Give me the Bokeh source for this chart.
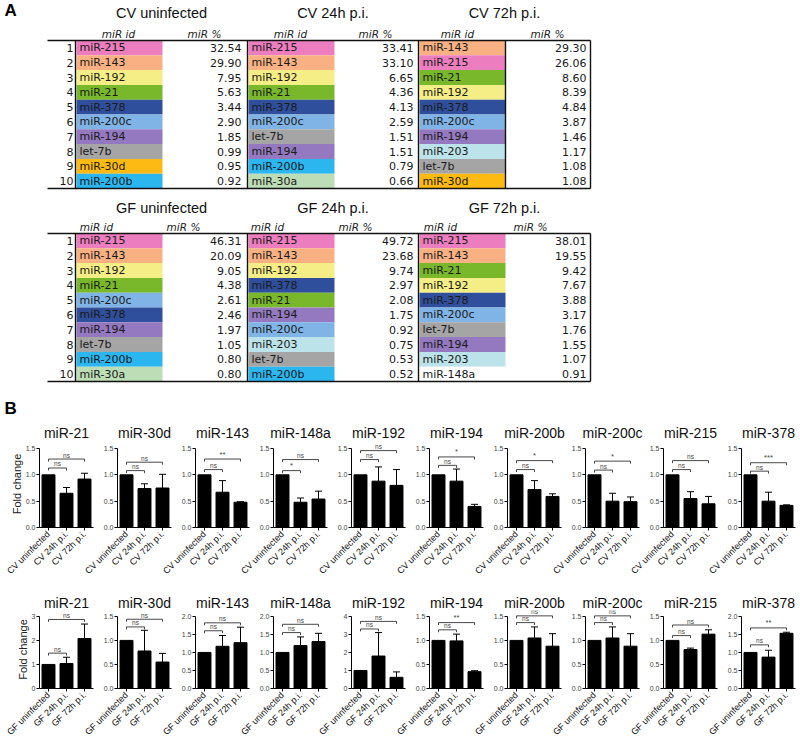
from math import pi
import numpy as np
from bokeh.plotting import figure
from bokeh.models import (ColumnDataSource, Range1d, FactorRange, FixedTicker,
                          NumeralTickFormatter, Whisker, TeeHead)
from bokeh.layouts import column, row
from bokeh.embed import file_html
from bokeh.resources import INLINE
from bokeh.core.properties import value

# ---------------- Panel A data ----------------
ranks = list(range(1, 11))
cv_titles = ["CV uninfected", "CV 24h p.i.", "CV 72h p.i."]
gf_titles = ["GF uninfected", "GF 24h p.i.", "GF 72h p.i."]

cv_uninf_ids = ["miR-215", "miR-143", "miR-192", "miR-21", "miR-378", "miR-200c", "miR-194", "let-7b", "miR-30d", "miR-200b"]
cv_uninf_pct = [32.54, 29.90, 7.95, 5.63, 3.44, 2.90, 1.85, 0.99, 0.95, 0.92]
cv_24h_ids = ["miR-215", "miR-143", "miR-192", "miR-21", "miR-378", "miR-200c", "let-7b", "miR-194", "miR-200b", "miR-30a"]
cv_24h_pct = [33.41, 33.10, 6.65, 4.36, 4.13, 2.59, 1.51, 1.51, 0.79, 0.66]
cv_72h_ids = ["miR-143", "miR-215", "miR-21", "miR-192", "miR-378", "miR-200c", "miR-194", "miR-203", "let-7b", "miR-30d"]
cv_72h_pct = [29.30, 26.06, 8.60, 8.39, 4.84, 3.87, 1.46, 1.17, 1.08, 1.08]

gf_uninf_ids = ["miR-215", "miR-143", "miR-192", "miR-21", "miR-200c", "miR-378", "miR-194", "let-7b", "miR-200b", "miR-30a"]
gf_uninf_pct = [46.31, 20.09, 9.05, 4.38, 2.61, 2.46, 1.97, 1.05, 0.80, 0.80]
gf_24h_ids = ["miR-215", "miR-143", "miR-192", "miR-378", "miR-21", "miR-194", "miR-200c", "miR-203", "let-7b", "miR-200b"]
gf_24h_pct = [49.72, 23.68, 9.74, 2.97, 2.08, 1.75, 0.92, 0.75, 0.53, 0.52]
gf_72h_ids = ["miR-215", "miR-143", "miR-21", "miR-192", "miR-378", "miR-200c", "let-7b", "miR-194", "miR-203", "miR-148a"]
gf_72h_pct = [38.01, 19.55, 9.42, 7.67, 3.88, 3.17, 1.76, 1.55, 1.07, 0.91]

mir_colors = {
    "miR-215": "#EC7DBE", "miR-143": "#F9B183", "miR-192": "#F5EE87",
    "miR-21": "#78B82A", "miR-378": "#2F4F9C", "miR-200c": "#80B3E6",
    "miR-194": "#9479C0", "let-7b": "#A5A5A5", "miR-30d": "#FDBA12",
    "miR-200b": "#2CB6F0", "miR-30a": "#BCDDB5", "miR-203": "#BDE3EA",
    "miR-148a": "#FFFFFF",
}

# ---------------- Panel B data ----------------
mirs = ["miR-21", "miR-30d", "miR-143", "miR-148a", "miR-192", "miR-194",
        "miR-200b", "miR-200c", "miR-215", "miR-378"]
cv_groups = ["CV uninfected", "CV 24h p.i.", "CV 72h p.i."]
gf_groups = ["GF uninfected", "GF 24h p.i.", "GF 72h p.i."]

cv_mean = [[1.00, 0.65, 0.92], [1.00, 0.74, 0.75], [1.00, 0.67, 0.48], [1.00, 0.48, 0.54],
           [1.00, 0.88, 0.80], [1.00, 0.88, 0.40], [1.00, 0.72, 0.59], [1.00, 0.50, 0.49],
           [1.00, 0.55, 0.45], [1.00, 0.50, 0.42]]
cv_err_top = [[0.76, 1.03], [0.83, 1.01], [0.89, 0.49], [0.56, 0.69], [1.15, 1.10],
              [1.11, 0.44], [0.89, 0.64], [0.65, 0.58], [0.68, 0.59], [0.67, 0.43]]
cv_ymax = [1.5, 1.5, 1.5, 1.5, 1.5, 1.5, 1.5, 1.5, 1.5, 1.5]
cv_step = [0.5, 0.5, 0.5, 0.5, 0.5, 0.5, 0.5, 0.5, 0.5, 0.5]
cv_sig = [("ns", "ns"), ("ns", "ns"), ("ns", "**"), ("*", "ns"), ("ns", "ns"),
          ("ns", "*"), ("ns", "*"), ("ns", "*"), ("ns", "ns"), ("ns", "***")]
cv_brk = [(1.13, 1.30), (1.08, 1.24), (1.10, 1.30), (1.08, 1.29), (1.29, 1.46),
          (1.18, 1.34), (1.10, 1.27), (1.09, 1.26), (1.10, 1.27), (1.07, 1.23)]

gf_mean = [[1.00, 1.04, 2.08], [1.00, 0.78, 0.55], [1.00, 1.17, 1.27], [1.00, 1.19, 1.30],
           [1.00, 1.80, 0.62], [1.00, 0.99, 0.35], [1.00, 1.05, 0.88], [1.00, 1.05, 0.88],
           [1.00, 0.81, 1.13], [1.00, 0.87, 1.53]]
gf_err_top = [[1.30, 2.68], [1.21, 0.73], [1.47, 1.70], [1.43, 1.53], [3.10, 0.92],
              [1.13, 0.37], [1.28, 1.14], [1.28, 1.14], [0.84, 1.22], [1.06, 1.56]]
gf_ymax = [3, 1.5, 2.0, 2.0, 4, 1.5, 1.5, 1.5, 1.5, 2.0]
gf_step = [1, 0.5, 0.5, 0.5, 1, 0.5, 0.5, 0.5, 0.5, 0.5]
gf_sig = [("ns", "ns"), ("ns", "ns"), ("ns", "ns"), ("ns", "ns"), ("ns", "ns"),
          ("ns", "**"), ("ns", "ns"), ("ns", "ns"), ("ns", "ns"), ("ns", "**")]
gf_brk = [(1.47, 2.87), (1.28, 1.44), (1.60, 1.82), (1.55, 1.78), (3.30, 3.72),
          (1.22, 1.37), (1.37, 1.51), (1.37, 1.51), (1.10, 1.32), (1.21, 1.68)]

# ---------------- Styles / geometry ----------------
SANS = "Liberation Sans"
CELLF = "DejaVu Sans"
TW, TH = 797, 420
ROW_H = 14.8
LINE_L, LINE_R = 47, 590
VLINES = [75, 247, 418]
CELL_W = 86
VAL_X = [241, 413, 586]

# ---------------- Panel A figure ----------------
tp = figure(width=TW, height=TH, x_range=Range1d(0, TW), y_range=Range1d(TH, 0),
            x_axis_location=None, y_axis_location=None, min_border=0,
            output_backend="svg", toolbar_location=None)
tp.grid.visible = False
tp.outline_line_color = None
tp.background_fill_color = None
tp.border_fill_color = None


def draw_table(top, title_y, header_y, titles, ids_list, pct_list, hid_x, hpct_x, extra_vline):
    bottom = top + len(ranks) * ROW_H
    yc = [top + (r - 0.5) * ROW_H for r in ranks]
    for k in range(3):
        left = VLINES[k] + 1
        src = ColumnDataSource(dict(
            left=[left] * len(ranks), right=[left + CELL_W] * len(ranks),
            top=[top + (r - 1) * ROW_H for r in ranks],
            bottom=[top + r * ROW_H for r in ranks],
            color=[mir_colors[m] for m in ids_list[k]],
            y=yc, ids=ids_list[k],
            pct=["%.2f" % v for v in pct_list[k]],
        ))
        tp.quad(left="left", right="right", top="top", bottom="bottom",
                fill_color="color", line_color=None, source=src)
        tp.text(x=left + 3, y="y", text="ids", source=src, text_font=value(CELLF),
                text_font_size=value("11px"), text_baseline="middle",
                text_align="left", text_color="#1a1a1a")
        tp.text(x=VAL_X[k], y="y", text="pct", source=src, text_font=value(CELLF),
                text_font_size=value("11px"), text_baseline="middle",
                text_align="right", text_color="#1a1a1a")
    # rank numbers
    tp.text(x=[VLINES[0] - 2] * len(ranks), y=yc, text=[str(r) for r in ranks],
            text_font=value(CELLF), text_font_size=value("11px"),
            text_baseline="middle", text_align="right", text_color="#1a1a1a")
    # titles
    centers = [(VLINES[0] + VLINES[1]) / 2, (VLINES[1] + VLINES[2]) / 2, (VLINES[2] + LINE_R) / 2]
    tp.text(x=centers, y=[title_y] * 3, text=titles, text_font=value(SANS),
            text_font_size=value("14.5px"), text_baseline="middle",
            text_align="center", text_color="#111111")
    # headers
    tp.text(x=hid_x, y=[header_y] * 3, text=["miR id"] * 3, text_font=value(CELLF),
            text_font_size=value("10.5px"), text_font_style="italic",
            text_baseline="middle", text_align="center", text_color="#222222")
    tp.text(x=hpct_x, y=[header_y] * 3, text=["miR %"] * 3, text_font=value(CELLF),
            text_font_size=value("10.5px"), text_font_style="italic",
            text_baseline="middle", text_align="center", text_color="#222222")
    # lines
    tp.segment(x0=[LINE_L, LINE_L], y0=[top, bottom], x1=[LINE_R, LINE_R], y1=[top, bottom],
               line_color="#111111", line_width=1.6)
    vx = VLINES + ([505] if extra_vline else []) + [LINE_R]
    tp.segment(x0=vx, y0=[top] * len(vx), x1=vx, y1=[bottom] * len(vx),
               line_color="#111111", line_width=1.4)


draw_table(40, 12, 33, cv_titles,
           [cv_uninf_ids, cv_24h_ids, cv_72h_ids], [cv_uninf_pct, cv_24h_pct, cv_72h_pct],
           [118, 290, 457], [204, 375, 547], True)
draw_table(233, 207, 226, gf_titles,
           [gf_uninf_ids, gf_24h_ids, gf_72h_ids], [gf_uninf_pct, gf_24h_pct, gf_72h_pct],
           [96, 267, 440], [183, 355, 530], False)

tp.text(x=[4, 4], y=[10, 408], text=["A", "B"], text_font=value(SANS),
        text_font_size=value("17px"), text_font_style="bold",
        text_baseline="middle", text_align="left", text_color="#000000")

# ---------------- Panel B figures ----------------
FW = 54
PITCH = 78


def chart_row(groups, means, errs, ymaxs, steps, sigs, brks, H, T, head, axis_h):
    figs = []
    FH = head + axis_h
    n = len(mirs)
    for i, m in enumerate(mirs):
        first = i == 0
        last = i == n - 1
        L = 39 if first else 46
        RB = 2 if last else 10
        ext = ymaxs[i] * FH / axis_h
        p = figure(width=L + FW + RB, height=H, x_range=FactorRange(factors=groups),
                   y_range=Range1d(0, ext), min_border_left=L, min_border_right=RB,
                   min_border_top=T, min_border_bottom=H - T - FH, title=m,
                   output_backend="svg", toolbar_location=None)
        if not first:
            p.margin = (0, 0, 0, PITCH - FW - 10 - L)
        p.grid.visible = False
        p.outline_line_color = None
        p.background_fill_color = None
        p.border_fill_color = None
        p.title.align = "center"
        p.title.text_font = SANS
        p.title.text_font_size = "14px"
        p.title.text_font_style = "normal"
        p.title.text_color = "#111111"
        p.title.standoff = 0
        p.title.offset = 0

        p.vbar(x=groups, top=means[i], width=0.72, fill_color="black", line_color="black")
        wsrc = ColumnDataSource(dict(base=groups[1:], upper=errs[i], lower=means[i][1:]))
        p.add_layout(Whisker(source=wsrc, base="base", upper="upper", lower="lower",
                             line_color="black", line_width=1,
                             upper_head=TeeHead(size=7, line_color="black", line_width=1),
                             lower_head=None))

        d = 2.5 * ext / FH
        for k, lab, h in [(1, sigs[i][0], brks[i][0]), (2, sigs[i][1], brks[i][1])]:
            p.segment(x0=[groups[0], groups[0], groups[k]], y0=[h - d, h, h - d],
                      x1=[groups[0], groups[k], groups[k]], y1=[h, h, h],
                      line_color="#333333", line_width=0.9)
            mid = (groups[0], 0.5) if k == 1 else (groups[1], 0.0)
            p.text(x=[mid], y=[h], text=[lab], y_offset=-0.5,
                   text_font=value(SANS),
                   text_font_size=value("6.5px" if lab == "ns" else "7.5px"),
                   text_baseline="bottom", text_align="center", text_color="#444444")

        yt = list(np.round(np.arange(0, ymaxs[i] + 1e-9, steps[i]), 3))
        p.yaxis.ticker = FixedTicker(ticks=yt)
        p.yaxis.formatter = NumeralTickFormatter(format="0" if steps[i] >= 1 else "0.0")
        p.yaxis.bounds = (0, ymaxs[i])
        p.yaxis.minor_tick_line_color = None
        p.yaxis.major_tick_in = 0
        p.yaxis.major_tick_out = 3
        p.yaxis.major_label_text_font = SANS
        p.yaxis.major_label_text_font_size = "7px"
        p.yaxis.major_label_text_color = "#444444"
        p.yaxis.major_label_standoff = 1
        p.axis.axis_line_color = "black"
        p.axis.major_tick_line_color = "black"
        p.xaxis.major_tick_in = 0
        p.xaxis.major_tick_out = 3
        p.xaxis.major_label_orientation = pi / 4
        p.xaxis.major_label_text_font = SANS
        p.xaxis.major_label_text_font_size = "9px"
        p.xaxis.major_label_text_color = "#111111"
        p.xaxis.major_label_standoff = 2
        if first:
            p.yaxis.axis_label = "Fold change"
            p.yaxis.axis_label_text_font = SANS
            p.yaxis.axis_label_text_font_size = "11px"
            p.yaxis.axis_label_text_font_style = "normal"
            p.yaxis.axis_label_text_color = "#222222"
            p.yaxis.axis_label_standoff = 0
        figs.append(p)
    return row(*figs)


row1 = chart_row(cv_groups, cv_mean, cv_err_top, cv_ymax, cv_step, cv_sig, cv_brk,
                 172, 20, 8, 79)
row2 = chart_row(gf_groups, gf_mean, gf_err_top, gf_ymax, gf_step, gf_sig, gf_brk,
                 152, 16, 6, 74)

layout = column(tp, row1, row2)
open("out.html", "w").write(file_html(layout, INLINE))
